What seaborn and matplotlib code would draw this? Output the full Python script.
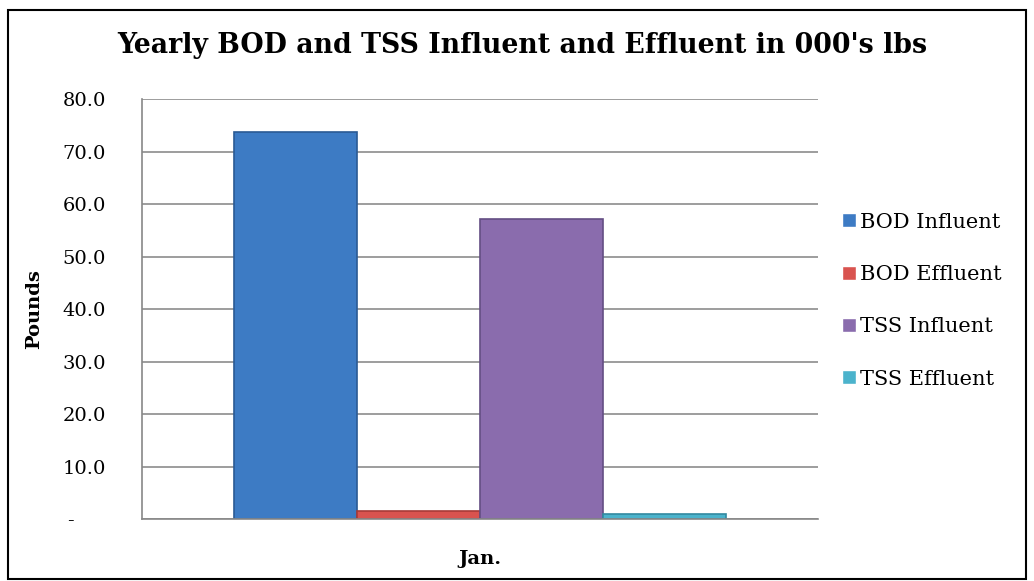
import pandas as pd
import matplotlib.pyplot as plt
import seaborn as sns
from matplotlib.patches import Rectangle

# Data
months = ['Jan.']
series = ['BOD Influent', 'BOD Effluent', 'TSS Influent', 'TSS Effluent']
values = [73.8, 1.5, 57.2, 1.0]
colors = ['#3D7BC4', '#D9534F', '#8A6CAD', '#4BB3CC']
edges = ['#2A5A94', '#A83A37', '#644E84', '#3189A0']

df = pd.DataFrame({'Month': months * len(series), 'Series': series, 'Pounds': values})

sns.set_style('white')
plt.rcParams['font.family'] = ['DejaVu Serif']
plt.rcParams['text.color'] = 'black'
plt.rcParams['xtick.color'] = 'black'
plt.rcParams['ytick.color'] = 'black'
plt.rcParams['axes.labelcolor'] = 'black'

fig = plt.figure(figsize=(10.34, 5.81), dpi=100)
ax = fig.add_axes([0.1373, 0.1067, 0.791 - 0.1373, 0.8296 - 0.1067])

sns.barplot(data=df, x='Month', y='Pounds', hue='Series', palette=colors,
            width=0.728, saturation=1, ax=ax)
for bar, ec in zip(ax.patches, edges):
    bar.set_edgecolor(ec)
    bar.set_linewidth(1.2)

ax.set_ylim(0, 80)
ax.set_yticks(range(0, 81, 10))
ax.set_yticklabels(['-     '] + [f'{v:.1f}' for v in range(10, 81, 10)], fontsize=14)
ax.set_xlim(-0.5, 0.5)
ax.set_xticks([-0.5, 0.5], minor=True)
ax.tick_params(axis='x', which='minor', length=8, color='#888888', width=1.2, direction='out')
ax.tick_params(axis='x', which='major', length=0, pad=22)
ax.tick_params(axis='y', length=8, color='#888888', labelcolor='black', width=1.2,
               direction='out', pad=18)
ax.set_xticks([0])
ax.set_xticklabels(['Jan.'], fontsize=14, fontweight='bold', color='black')
ax.set_xlabel('')
ax.set_ylabel('Pounds', fontsize=14, fontweight='bold', labelpad=14)

ax.grid(axis='y', color='#8C8C8C', linewidth=1.2)
ax.set_axisbelow(True)
for s in ['top', 'right']:
    ax.spines[s].set_visible(False)
for s in ['left', 'bottom']:
    ax.spines[s].set_color('#888888')
    ax.spines[s].set_linewidth(1.2)

ax.legend(loc='center left', bbox_to_anchor=(1.008, 0.52), frameon=False,
          fontsize=15, handlelength=0.65, handleheight=0.65, handletextpad=0.2,
          labelspacing=1.6)

fig.text(0.505, 0.922, "Yearly BOD and TSS Influent and Effluent in 000's lbs",
         ha='center', va='center', fontsize=19.3, fontweight='bold')

fig.patches.append(Rectangle((0.008, 0.004), 0.984, 0.978, transform=fig.transFigure,
                             fill=False, edgecolor='black', linewidth=1.5))

fig.savefig('out.png', dpi=100)
